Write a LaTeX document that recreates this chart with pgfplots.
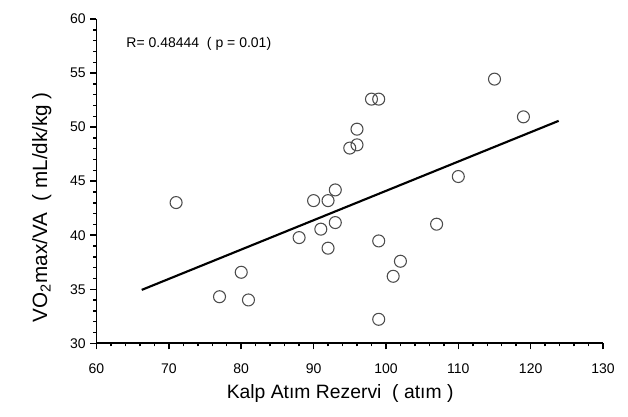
\documentclass[border=0pt]{standalone}
\usepackage{fontspec}
\setmainfont{Liberation Sans}
\usepackage{pgfplots}
\pgfplotsset{compat=1.18}

\begin{document}
\begin{tikzpicture}[x=0.75pt,y=0.75pt]
\begin{axis}[
  at={(0,0)}, anchor=south west,
  scale only axis,
  width=379.9pt, height=243.2pt,
  xmin=60, xmax=130, ymin=30, ymax=60,
  axis x line*=bottom, axis y line*=left,
  axis line style={line width=1.3pt, black},
  xtick={60,70,...,130}, ytick={30,35,...,60},
  minor x tick num=4, minor y tick num=4,
  tick align=outside,
  major tick length=4.5pt, minor tick length=2.3pt,
  every tick/.style={line width=1.1pt, black},
  /pgf/number format/assume math mode=true,
  ticklabel style={font=\fontsize{10.5}{12}\selectfont},
  xticklabel style={yshift=-7.5pt},
  xlabel={Kalp Atım Rezervi\ \ ( atım )},
  ylabel={VO\textsubscript{2}max/VA\ \ ( mL/dk/kg )},
  xlabel style={at={(axis description cs:0.481,-0.155)}, anchor=center, font=\fontsize{14.5}{16}\selectfont},
  ylabel style={at={(axis description cs:-0.108,0.42)}, anchor=center, font=\fontsize{15.5}{17}\selectfont},
  clip=false,
]

% olcumler
\addplot[only marks, mark=o, mark size=4.5pt, color=black!70, mark options={line width=0.8pt}] coordinates {
  (71,43.02) (77,34.31) (80,36.57) (81,34.01) (88,39.78)
  (90,43.20) (91,40.56) (92,43.20) (92,38.80) (93,44.19)
  (93,41.17) (95,48.06) (96,48.36) (96,49.81) (98,52.59)
  (99,52.59) (99,39.47) (99,32.22) (101,36.20) (102,37.59)
  (107,41.02) (110,45.43) (115,54.44) (119,50.95)
};

% regresyon dogrusu
\addplot[black, line width=1.6pt] coordinates {(66.25,34.94) (123.87,50.58)};

\node[anchor=west, inner sep=0pt, font=\fontsize{10.5}{12}\selectfont] at (axis cs:64.1,57.7) {R= 0.48444\ \ ( p = 0.01)};
\end{axis}
\pgfresetboundingbox
\useasboundingbox (-96.5,-73.7) rectangle (531.5,343.3);
\end{tikzpicture}
\end{document}
